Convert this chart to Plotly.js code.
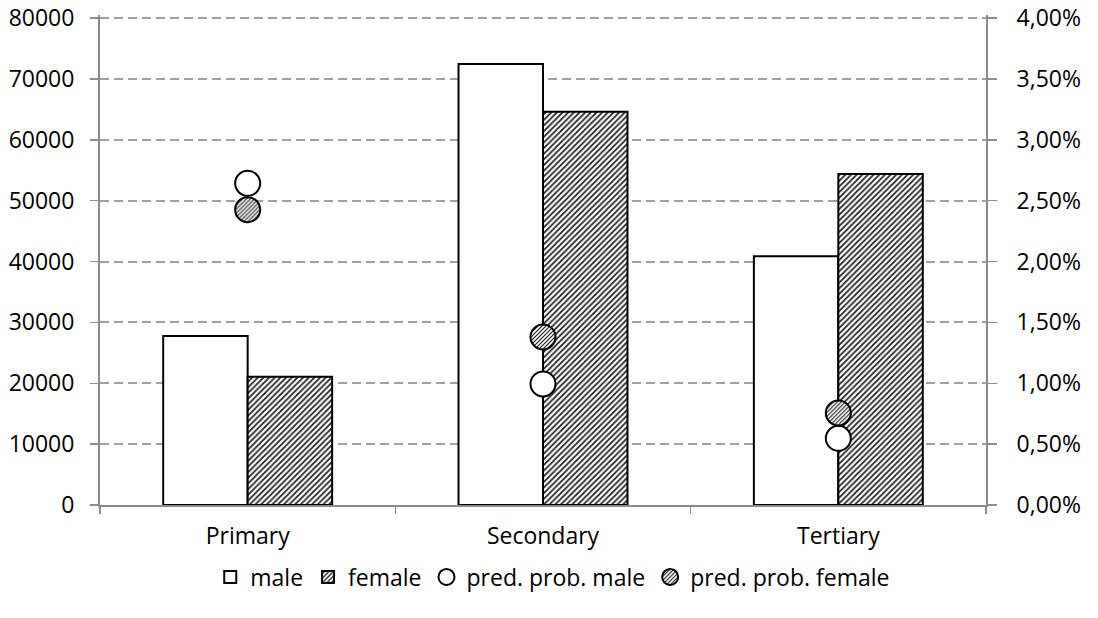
<!DOCTYPE html>
<html>
<head>
<meta charset="utf-8">
<script src="https://cdn.plot.ly/plotly-3.0.1.min.js"></script>
<style>html,body{margin:0;padding:0;background:#fff;}#chart{width:1098px;height:618px;}</style>
</head>
<body>
<div id="chart"></div>
<script>
const categories = ["Primary", "Secondary", "Tertiary"];
const maleCounts = [27760, 72440, 40850];
const femaleCounts = [21080, 64610, 54370];
const predProbMale = [0.02642, 0.00994, 0.00548];
const predProbFemale = [0.02426, 0.0138, 0.00756];
const leftTicks = [0, 10000, 20000, 30000, 40000, 50000, 60000, 70000, 80000];
const rightTicks = [0, 0.005, 0.01, 0.015, 0.02, 0.025, 0.03, 0.035, 0.04];

const FONT = "Open Sans";
const FS = 23;
const traces = [
  {type: "bar", name: "male", x: categories, y: maleCounts, yaxis: "y",
   marker: {color: "#ffffff", line: {color: "#000000", width: 2}}},
  {type: "bar", name: "female", x: categories, y: femaleCounts, yaxis: "y",
   marker: {color: "#ffffff", line: {color: "#000000", width: 2},
            pattern: {shape: "/", fgcolor: "#222222", bgcolor: "#ffffff", size: 4, solidity: 0.45}}},
  {type: "scatter", mode: "markers", name: "pred. prob. male", x: categories, y: predProbMale, yaxis: "y2",
   marker: {symbol: "circle", size: 25, color: "#ffffff", line: {color: "#000000", width: 2}}},
  {type: "scatter", mode: "markers", name: "pred. prob. female", x: categories, y: predProbFemale, yaxis: "y2",
   marker: {symbol: "circle", size: 25, color: "#aaaaaa", line: {color: "#000000", width: 2}}}
];

const layout = {
  width: 1098, height: 618,
  margin: {l: 100, r: 112, t: 15, b: 113},
  paper_bgcolor: "#ffffff", plot_bgcolor: "#ffffff",
  separators: ", ",
  font: {family: FONT, size: FS, color: "#000000"},
  barmode: "group", bargap: 0.428, bargroupgap: 0,
  showlegend: true,
  legend: {orientation: "h", x: 0.511, xanchor: "center", y: -0.147, yanchor: "middle",
           font: {family: FONT, size: FS, color: "#000000"}, itemwidth: 30, tracegroupgap: 0},
  xaxis: {type: "category", showline: true, linecolor: "#8c8c8c", linewidth: 2,
          ticks: "outside", ticklen: 7, tickcolor: "#8c8c8c", tickwidth: 1.5, tickson: "boundaries",
          showgrid: false, zeroline: false, ticklabelstandoff: 9,
          tickfont: {family: FONT, size: FS, color: "#000000"}},
  yaxis: {range: [0, 80493], tickvals: leftTicks, tickformat: "d",
          showline: true, linecolor: "#8c8c8c", linewidth: 2,
          ticks: "outside", ticklen: 8, tickcolor: "#8c8c8c", tickwidth: 1.5,
          showgrid: true, gridcolor: "#a0a0a0", gridwidth: 2, griddash: "9px,5px",
          zeroline: false, ticklabelstandoff: 11,
          tickfont: {family: FONT, size: FS, color: "#000000"}},
  yaxis2: {range: [0, 0.0402465], tickvals: rightTicks, tickformat: ".2%", overlaying: "y", side: "right",
           showline: true, linecolor: "#8c8c8c", linewidth: 2,
           ticks: "outside", ticklen: 9, tickcolor: "#8c8c8c", tickwidth: 1.5,
           showgrid: false, zeroline: false, ticklabelstandoff: 15,
           tickfont: {family: FONT, size: FS, color: "#000000"}}
};

function applyHatch(gd) {
  const ns = "http://www.w3.org/2000/svg";
  const svg = gd.querySelector("svg.main-svg");
  if (!svg) return;
  let defs = svg.querySelector("defs");
  if (!defs) { defs = document.createElementNS(ns, "defs"); svg.insertBefore(defs, svg.firstChild); }
  if (!svg.querySelector("#hatchMarker")) {
    const p = document.createElementNS(ns, "pattern");
    p.setAttribute("id", "hatchMarker");
    p.setAttribute("patternUnits", "userSpaceOnUse");
    p.setAttribute("width", "4"); p.setAttribute("height", "4");
    const bg = document.createElementNS(ns, "rect");
    bg.setAttribute("width", "4"); bg.setAttribute("height", "4"); bg.setAttribute("fill", "#ffffff");
    const ln = document.createElementNS(ns, "path");
    ln.setAttribute("d", "M-1,1 l2,-2 M0,4 l4,-4 M3,5 l2,-2");
    ln.setAttribute("stroke", "#222222"); ln.setAttribute("stroke-width", "1.2");
    p.appendChild(bg); p.appendChild(ln); defs.appendChild(p);
  }
  gd.querySelectorAll(".scatterlayer .trace").forEach(t => {
    const d = t.__data__;
    const tr = d && d[0] && d[0].trace;
    if (tr && tr.name === "pred. prob. female") {
      t.querySelectorAll("path.point").forEach(pt => { pt.style.fill = "url(#hatchMarker)"; });
    }
  });
  gd.querySelectorAll(".legend .traces").forEach(t => {
    const d = t.__data__;
    const tr = d && d[0] && d[0].trace;
    if (tr && tr.name === "pred. prob. female") {
      t.querySelectorAll("path.scatterpts").forEach(pt => { pt.style.fill = "url(#hatchMarker)"; });
    }
  });
}

Plotly.newPlot("chart", traces, layout, {displayModeBar: false, staticPlot: true}).then(gd => {
  applyHatch(gd);
  gd.on("plotly_afterplot", () => applyHatch(gd));
});
</script>
</body>
</html>
